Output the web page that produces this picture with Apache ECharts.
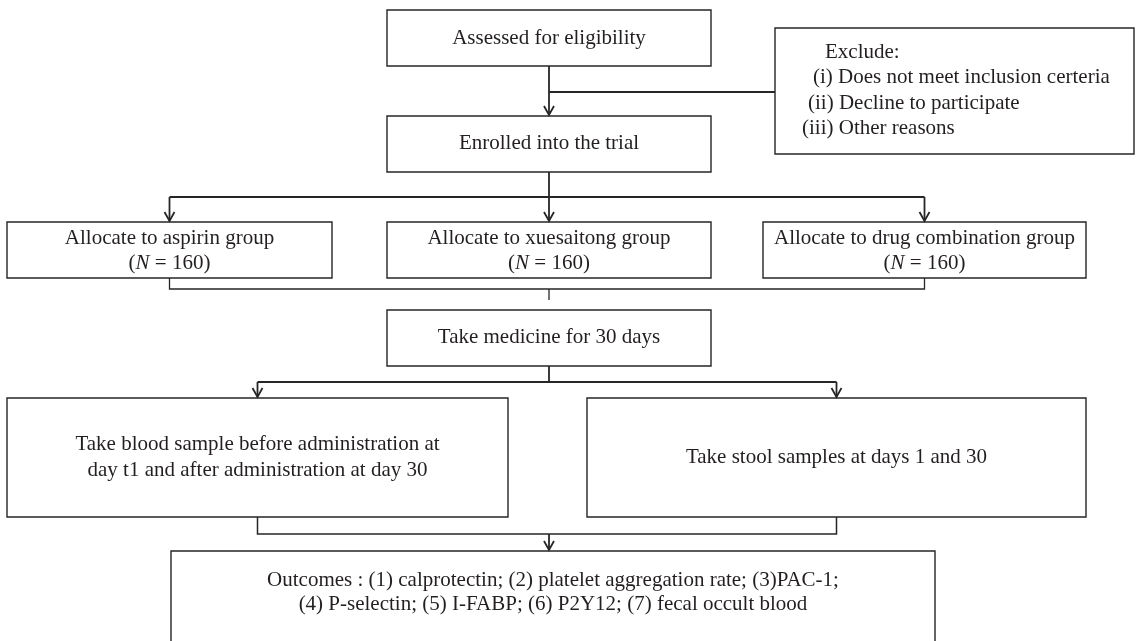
<!DOCTYPE html>
<html>
<head>
<meta charset="utf-8">
<script src="https://cdn.jsdelivr.net/npm/echarts@6/dist/echarts.min.js"></script>
<style>
  html,body{margin:0;padding:0;background:#fff;}
  #main{width:1136px;height:641px;}
</style>
</head>
<body>
<div id="main"></div>
<script>
// texts of the flow chart
var stepTitles = ['Assessed for eligibility', 'Enrolled into the trial', 'Take medicine for 30 days'];
var excludeLines = ['Exclude:', '(i) Does not meet inclusion certeria', '(ii) Decline to participate', '(iii) Other reasons'];
var groupNames = ['aspirin', 'xuesaitong', 'drug combination'];
var groupN = [160, 160, 160];
var sampleSteps = [
    ['Take blood sample before administration at', 'day t1 and after administration at day 30'],
    ['Take stool samples at days 1 and 30']
];
var outcomeItems = ['(1) calprotectin', '(2) platelet aggregation rate', '(3)PAC-1',
    '(4) P-selectin', '(5) I-FABP', '(6) P2Y12', '(7) fecal occult blood'];

// layout (pixels)
var FONT = '"Liberation Serif", "DejaVu Serif", serif';
var FS = 21;
var INK = '#231f20';
var LINE = '#262626';
var boxTop = {x: 387, w: 324, h: 56};
var groupBoxes = [{x: 7, w: 325}, {x: 387, w: 324}, {x: 763, w: 323}];
var groupY = 222;
var sampleBoxes = [{x: 7, w: 501}, {x: 587, w: 499}];
var sampleY = 398, sampleH = 119;
var excludeX = [825, 813, 808, 802];

var els = [];

function box(x, y, w, h) {
    els.push({type: 'rect', shape: {x: x, y: y, width: w, height: h},
        style: {fill: '#fff', stroke: LINE, lineWidth: 1.4}, z: 1});
}
function txt(s, x, y, opt) {
    opt = opt || {};
    els.push({type: 'text', z: 3, style: {
        text: s, x: x, y: y, fill: INK, fontFamily: FONT, fontSize: opt.size || FS,
        align: opt.align || 'center', verticalAlign: 'middle', rich: opt.rich
    }});
}
function line(pts, w) {
    els.push({type: 'polyline', shape: {points: pts}, z: 2,
        style: {stroke: LINE, lineWidth: w || 1.8, fill: null}});
}
function arrow(x, y1, y2) {   // vertical line with open head pointing down
    line([[x, y1], [x, y2 - 1]]);
    line([[x - 5, y2 - 10], [x, y2 - 1], [x + 5, y2 - 10]], 1.8);
}

var cx = boxTop.x + boxTop.w / 2;

// assessed / enrolled
box(boxTop.x, 10, boxTop.w, boxTop.h);
txt(stepTitles[0], cx, 38);
arrow(cx, 66, 116);
line([[cx, 92], [775, 92]]);
box(boxTop.x, 116, boxTop.w, boxTop.h);
txt(stepTitles[1], cx, 143);

// exclude box
box(775, 28, 359, 126);
excludeLines.forEach(function (s, i) {
    txt(s, excludeX[i], 52 + i * 25.5, {align: 'left'});
});

// allocation
var gcx = groupBoxes.map(function (b) { return b.x + b.w / 2; });
var acx = [gcx[0], cx, gcx[2]];
line([[cx, 172], [cx, 197]]);
line([[acx[0], 197], [acx[2], 197]]);
groupBoxes.forEach(function (b, i) {
    arrow(acx[i], 197, groupY);
    box(b.x, groupY, b.w, 56);
    txt('Allocate to ' + groupNames[i] + ' group', gcx[i], groupY + 16);
    txt('{r|(}{i|N}{r| = ' + groupN[i] + ')}', gcx[i], groupY + 41, {rich: {
        r: {fontFamily: FONT, fontSize: FS, fill: INK},
        i: {fontFamily: FONT, fontSize: FS, fill: INK, fontStyle: 'italic'}
    }});
});
line([[acx[0], 278], [acx[0], 289], [acx[2], 289], [acx[2], 278]], 1.3);
line([[cx, 289], [cx, 300]], 1.3);

// medicine
box(boxTop.x, 310, boxTop.w, boxTop.h);
txt(stepTitles[2], cx, 337);
line([[cx, 366], [cx, 382]]);
var scx = sampleBoxes.map(function (b) { return b.x + b.w / 2; });
line([[scx[0], 382], [scx[1], 382]]);
sampleBoxes.forEach(function (b, i) {
    arrow(scx[i], 382, sampleY);
    box(b.x, sampleY, b.w, sampleH);
    var ls = sampleSteps[i];
    var mid = sampleY + sampleH / 2;
    ls.forEach(function (s, k) {
        txt(s, scx[i], mid + (k - (ls.length - 1) / 2) * 26);
    });
});
line([[scx[0], 517], [scx[0], 534], [scx[1], 534], [scx[1], 517]], 1.5);
arrow(cx, 534, 551);

// outcomes
box(171, 551, 764, 110);
txt('Outcomes : ' + outcomeItems.slice(0, 3).join('; ') + ';', 553, 580);
txt(outcomeItems.slice(3).join('; '), 553, 604);

var myChart = echarts.init(document.getElementById('main'));
var option = {
    animation: false,
    backgroundColor: '#fff',
    graphic: {elements: els}
};
myChart.setOption(option);
</script>
</body>
</html>
